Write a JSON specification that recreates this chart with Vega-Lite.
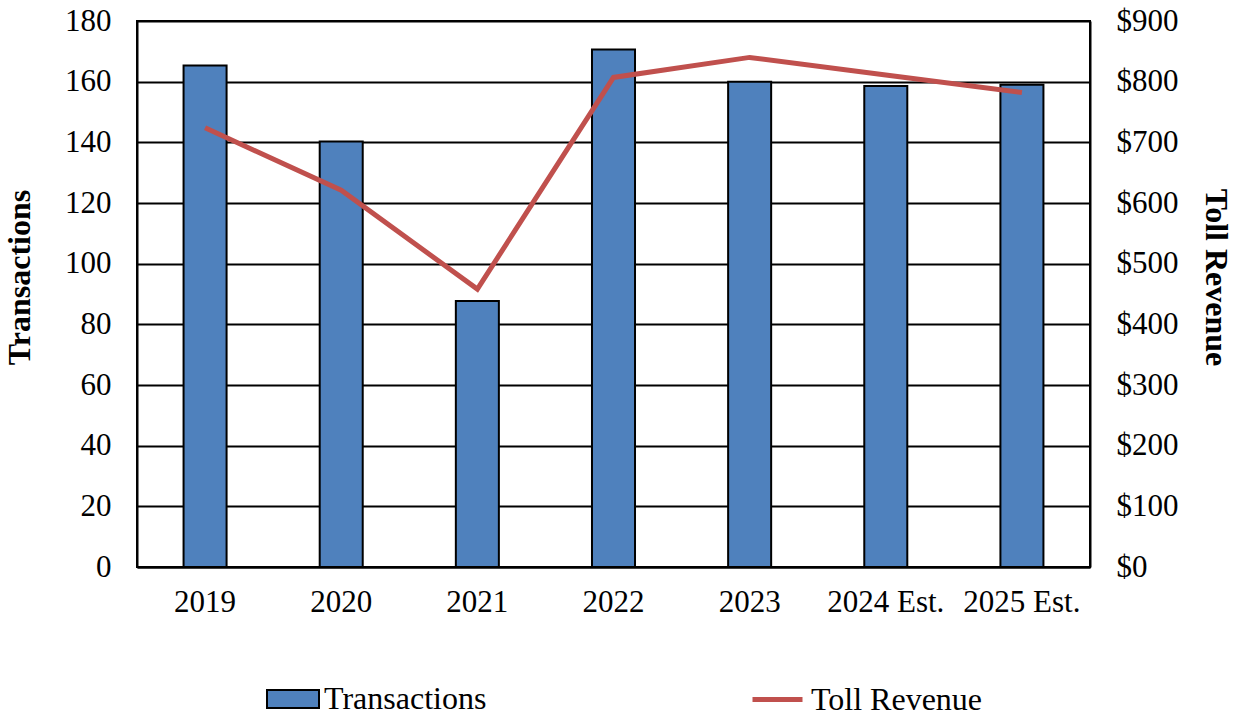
{
  "$schema": "https://vega.github.io/schema/vega-lite/v6.json",
  "width": 953,
  "height": 546,
  "autosize": {"type": "none"},
  "padding": {"left": 137, "top": 21, "right": 147, "bottom": 150},
  "background": "white",
  "config": {
    "font": "Liberation Serif",
    "view": {"stroke": "black", "strokeWidth": 2},
    "axis": {
      "labelFont": "Liberation Serif",
      "labelFontSize": 31,
      "labelColor": "black",
      "titleFont": "Liberation Serif",
      "titleFontSize": 32,
      "titleFontWeight": "bold",
      "titleColor": "black",
      "domainColor": "black",
      "domainWidth": 2,
      "ticks": false
    },
    "legend": {
      "labelFont": "Liberation Serif",
      "labelFontSize": 32,
      "labelColor": "black",
      "labelLimit": 400
    }
  },
  "data": {
    "values": [
      {"year": "2019", "transactions": 165.3, "revenue": 724},
      {"year": "2020", "transactions": 140.3, "revenue": 621},
      {"year": "2021", "transactions": 87.7, "revenue": 458},
      {"year": "2022", "transactions": 170.6, "revenue": 807},
      {"year": "2023", "transactions": 160, "revenue": 840},
      {"year": "2024 Est.", "transactions": 158.6, "revenue": 811},
      {"year": "2025 Est.", "transactions": 159, "revenue": 782}
    ]
  },
  "encoding": {
    "x": {
      "field": "year",
      "type": "nominal",
      "sort": null,
      "scale": {"paddingInner": 0.684, "paddingOuter": 0.342},
      "axis": {"title": null, "labelAngle": 0, "labelPadding": 20, "grid": false}
    }
  },
  "layer": [
    {
      "mark": {"type": "bar", "stroke": "black", "strokeWidth": 2},
      "encoding": {
        "y": {
          "field": "transactions",
          "type": "quantitative",
          "scale": {"domain": [0, 180], "nice": false},
          "axis": {
            "title": "Transactions",
            "values": [0, 20, 40, 60, 80, 100, 120, 140, 160, 180],
            "grid": true,
            "gridColor": "black",
            "gridWidth": 2,
            "gridOpacity": 1,
            "labelPadding": 26,
            "titlePadding": 28,
            "titleY": 256
          }
        },
        "fill": {
          "datum": "Transactions",
          "type": "nominal",
          "scale": {"range": ["#4F81BD"]},
          "legend": {
            "title": null,
            "orient": "none",
            "legendX": 129,
            "legendY": 651,
            "symbolType": "M-1,-0.35L1,-0.35L1,0.35L-1,0.35Z",
            "symbolSize": 2704,
            "symbolStrokeColor": "black",
            "symbolStrokeWidth": 2,
            "symbolOpacity": 1,
            "labelOffset": 4
          }
        }
      }
    },
    {
      "mark": {"type": "line", "strokeWidth": 5},
      "encoding": {
        "y": {
          "field": "revenue",
          "type": "quantitative",
          "scale": {"domain": [0, 900], "nice": false},
          "axis": {
            "orient": "right",
            "title": "Toll Revenue",
            "format": "$,.0f",
            "values": [0, 100, 200, 300, 400, 500, 600, 700, 800, 900],
            "grid": false,
            "labelPadding": 26,
            "titlePadding": 20,
            "titleY": 256
          }
        },
        "stroke": {
          "datum": "Toll Revenue",
          "type": "nominal",
          "scale": {"range": ["#C0504D"]},
          "legend": {
            "title": null,
            "orient": "none",
            "legendX": 613,
            "legendY": 651,
            "symbolType": "stroke",
            "symbolSize": 2500,
            "symbolStrokeWidth": 5,
            "labelOffset": 6
          }
        }
      }
    }
  ],
  "resolve": {"scale": {"y": "independent", "fill": "independent", "stroke": "independent"}}
}
